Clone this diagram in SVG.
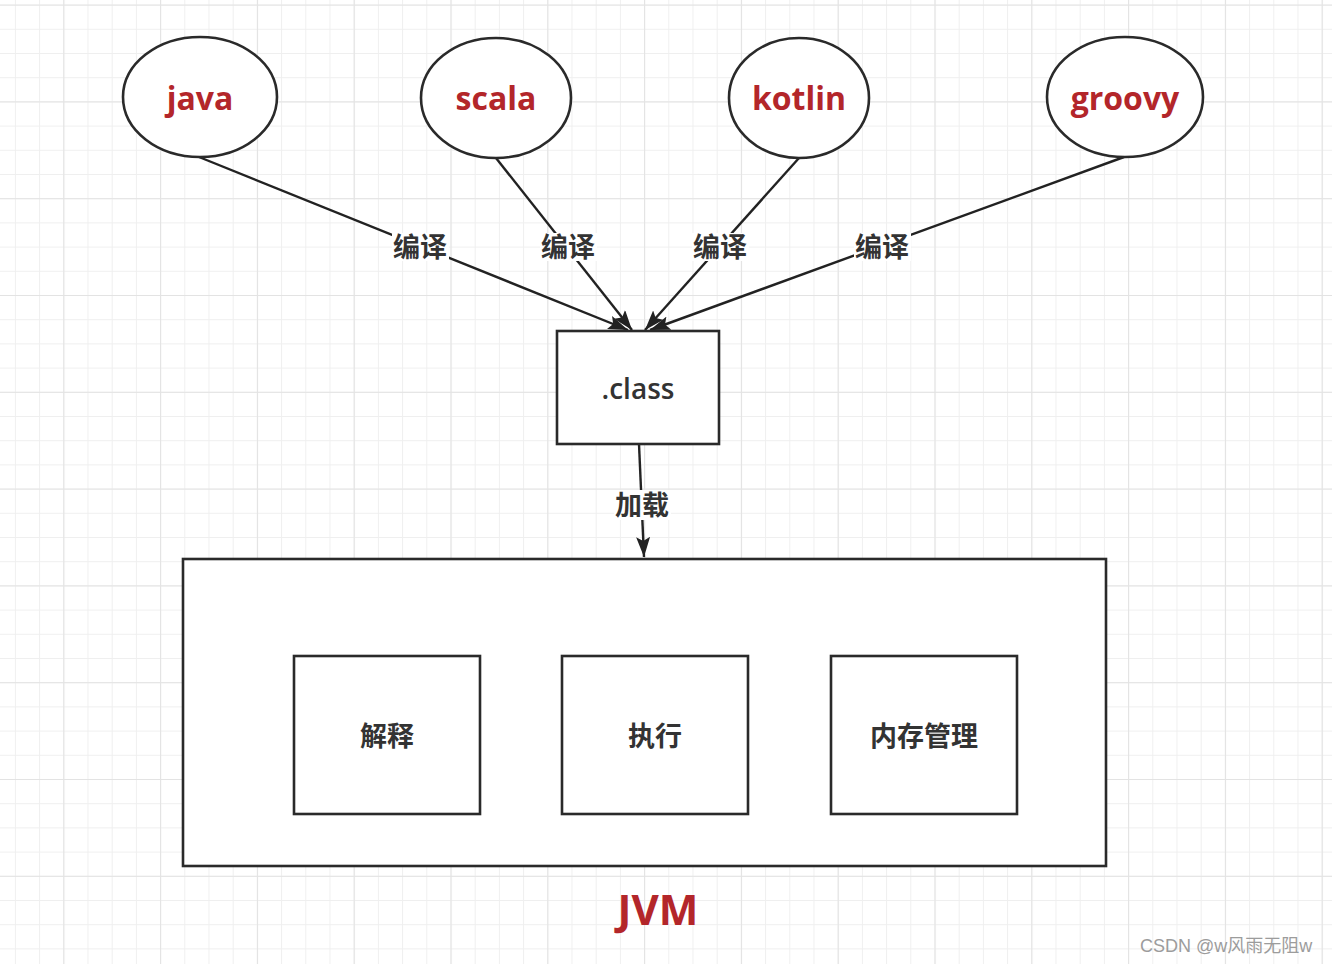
<svg xmlns="http://www.w3.org/2000/svg" width="1332" height="964" viewBox="0 0 1332 964">
<defs>
<pattern id="minor" patternUnits="userSpaceOnUse" x="63.3" y="4.6" width="24.2" height="24.2">
<path d="M0.5,0 V24.2 M0,0.5 H24.2" stroke="#efefef" stroke-width="1" fill="none"/>
</pattern>
<pattern id="major" patternUnits="userSpaceOnUse" x="63.3" y="4.6" width="96.8" height="96.8">
<path d="M0.5,0 V96.8 M0,0.5 H96.8" stroke="#e3e3e3" stroke-width="1.2" fill="none"/>
</pattern>
<marker id="arrow" viewBox="0 0 20 14" refX="20" refY="7" markerWidth="20" markerHeight="14" markerUnits="userSpaceOnUse" orient="auto">
<path d="M0,0 L20,7 L0,14 L4,7 Z" fill="#222"/>
</marker>
</defs>
<style>
.shape{fill:#fff;stroke:#2a2a2a;stroke-width:2.6}
.lang{font-family:"Open Sans","Liberation Sans",sans-serif;font-weight:700;font-size:32px;fill:#b3262a;text-anchor:middle}
.cn{font-family:"Noto Sans CJK SC",sans-serif;font-weight:700;font-size:27px;fill:#333;text-anchor:middle}
.edge{fill:none;stroke:#222;stroke-width:2.4}
.lbg{fill:#fff}
</style>
<rect width="1332" height="964" fill="#fff"/>
<rect width="1332" height="964" fill="url(#minor)"/>
<rect width="1332" height="964" fill="url(#major)"/>

<g id="connectors">
<line class="edge" x1="199" y1="157" x2="628" y2="330" marker-end="url(#arrow)"/>
<line class="edge" x1="496" y1="158" x2="632" y2="330" marker-end="url(#arrow)"/>
<line class="edge" x1="799" y1="158" x2="645" y2="330" marker-end="url(#arrow)"/>
<line class="edge" x1="1124" y1="157" x2="650" y2="330" marker-end="url(#arrow)"/>
<line class="edge" x1="639" y1="444" x2="644" y2="557" marker-end="url(#arrow)"/>
<g id="edge-labels">
<rect class="lbg" x="392" y="233" width="57" height="28"/>
<text class="cn" x="420" y="257">编译</text>
<rect class="lbg" x="540" y="233" width="57" height="28"/>
<text class="cn" x="568" y="257">编译</text>
<rect class="lbg" x="692" y="233" width="57" height="28"/>
<text class="cn" x="720" y="257">编译</text>
<rect class="lbg" x="854" y="233" width="57" height="28"/>
<text class="cn" x="882" y="257">编译</text>
<rect class="lbg" x="614" y="490" width="57" height="30"/>
<text class="cn" x="642" y="515">加载</text>
</g>
</g>

<g id="java">
<ellipse class="shape" cx="200" cy="97" rx="77" ry="60"/>
<text class="lang" x="200" y="110">java</text>
</g>
<g id="scala">
<ellipse class="shape" cx="496" cy="98" rx="75" ry="60"/>
<text class="lang" x="496" y="110">scala</text>
</g>
<g id="kotlin">
<ellipse class="shape" cx="799" cy="98" rx="70" ry="60"/>
<text class="lang" x="799" y="110">kotlin</text>
</g>
<g id="groovy">
<ellipse class="shape" cx="1125" cy="97" rx="78" ry="60"/>
<text class="lang" x="1125" y="110">groovy</text>
</g>

<g id="class">
<rect class="shape" x="557" y="331" width="162" height="113"/>
<text x="638" y="399" font-family="'Open Sans','Liberation Sans',sans-serif" font-weight="600" font-size="28" fill="#333" text-anchor="middle">.class</text>
</g>

<g id="jvm">
<rect class="shape" x="183" y="559" width="923" height="307"/>
<text x="658" y="925" font-family="'Open Sans','Liberation Sans',sans-serif" font-weight="700" font-size="42" fill="#b3262a" text-anchor="middle">JVM</text>
</g>
<g id="interpret">
<rect class="shape" x="294" y="656" width="186" height="158"/>
<text class="cn" x="387" y="746">解释</text>
</g>
<g id="execute">
<rect class="shape" x="562" y="656" width="186" height="158"/>
<text class="cn" x="655" y="746">执行</text>
</g>
<g id="memory">
<rect class="shape" x="831" y="656" width="186" height="158"/>
<text class="cn" x="924" y="746">内存管理</text>
</g>

<text x="1140" y="952" font-family="'Liberation Sans','Noto Sans CJK SC',sans-serif" font-size="18" fill="#9c9c9c">CSDN @w风雨无阻w</text>
</svg>
